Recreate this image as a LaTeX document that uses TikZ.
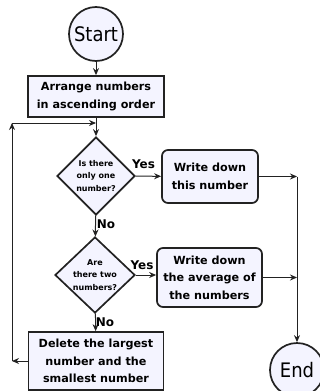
\documentclass[tikz,border=0pt]{standalone}
\usepackage{fontspec}
\setmainfont{DejaVu Sans}
\newfontfamily\condfont{DejaVu Sans Condensed}
\usetikzlibrary{shapes.geometric,arrows.meta}
\definecolor{fillc}{HTML}{F4F4FF}
\definecolor{linec}{HTML}{222222}
\tikzset{
  base/.style={draw=linec, line width=1.7pt, fill=fillc, align=center, inner sep=0pt},
  term/.style={base, circle, minimum size=54pt, font=\condfont\fontsize{20}{22}\selectfont},
  proc/.style={base, rectangle, font=\bfseries\fontsize{11.2}{17.5}\selectfont},
  rproc/.style={proc, rounded corners=6pt},
  dec/.style={base, diamond, aspect=1, font=\bfseries\fontsize{8}{12.5}\selectfont},
  arr/.style={draw=linec, line width=1pt, -{Stealth[length=7pt,width=6pt]}},
  lbl/.style={font=\bfseries\fontsize{12}{14}\selectfont, inner sep=0pt}
}
\begin{document}
\begin{tikzpicture}[x=1pt,y=-1pt]
\useasboundingbox (0,0) rectangle (320,391);
\node[term] (start) at (96,34) {Start};
\node[proc, minimum width=136pt, minimum height=41pt] (arrange) at (96,96.5) {Arrange numbers\\in ascending order};
\node[dec, minimum width=78pt, minimum height=78pt] (d1) at (96,176) {Is there\\only one\\number?};
\node[rproc, minimum width=96pt, minimum height=53pt] (b1) at (210,176.5) {Write down\\this number};
\node[dec, minimum width=80pt, minimum height=76pt] (d2) at (95,275) {Are\\there two\\numbers?};
\node[rproc, minimum width=105pt, minimum height=59pt] (b2) at (209.5,277.5) {Write down\\the average of\\the numbers};
\node[proc, minimum width=135pt, minimum height=58pt] (del) at (96,361) {Delete the largest\\number and the\\smallest number};
\node[term] (end) at (297,370) {End};
\coordinate (c1) at (297,176.5);
\coordinate (c2) at (297,277.5);
\coordinate (l1) at (12,361);
\coordinate (l2) at (12,123);
\coordinate (l3) at (96,123);
\draw[arr] (start) -- (arrange);
\draw[arr] (arrange) -- (d1);
\draw[arr] (d1) -- (b1);
\node[lbl] (y1) at (143.5,164) {Yes};
\draw[arr] (b1) -- (c1);
\draw[arr] (c1) -- (end);
\draw[arr] (d1) -- (d2);
\node[lbl] (n1) at (106,224) {No};
\draw[arr] (d2.east) -- (b2.west |- d2.east);
\node[lbl] (y2) at (142,265) {Yes};
\draw[arr] (b2) -- (c2);
\draw[arr] (d2) -- (del);
\node[lbl] (n2) at (105,322) {No};
\draw[arr] (del) -- (l1);
\draw[arr] (l1) -- (l2);
\draw[arr] (l2) -- (l3);
\end{tikzpicture}
\end{document}
